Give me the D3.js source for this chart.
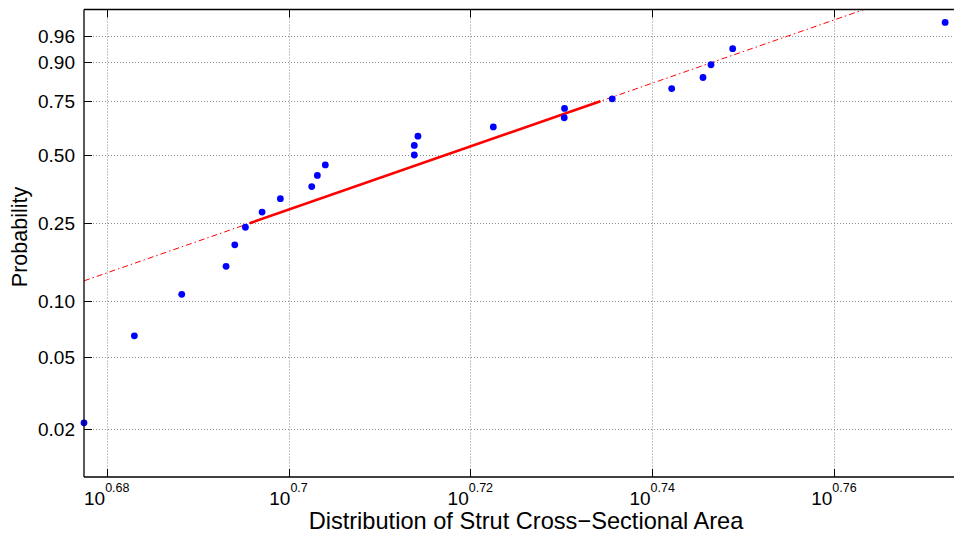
<!DOCTYPE html>
<html><head><meta charset="utf-8">
<script src="https://cdn.jsdelivr.net/npm/d3@7"></script>
<style>
html,body{margin:0;padding:0;background:#fff;overflow:hidden}
text{font-family:"Liberation Sans",Arial,Helvetica,sans-serif;fill:#000}
</style></head><body>
<svg id="c" width="954" height="536"></svg>
<script>
// Observed sample (strut cross-sectional area), sorted
const areaValues = [4.7588, 4.8199, 4.8781, 4.9332, 4.9441, 4.9574, 4.9784, 5.0015, 5.0414, 5.0486,
  5.0588, 5.1741, 5.1741, 5.1789, 5.2787, 5.3744, 5.3748, 5.4402, 5.5227, 5.5667, 5.5780, 5.6087, 5.9188];
const xTickExponents = [0.68, 0.70, 0.72, 0.74, 0.76];
const xTickLabels = ["0.68", "0.7", "0.72", "0.74", "0.76"];
const yTickProbs = [0.02, 0.05, 0.10, 0.25, 0.50, 0.75, 0.90, 0.96];
const yTickLabels = ["0.02", "0.05", "0.10", "0.25", "0.50", "0.75", "0.90", "0.96"];
const xUpperLimit = [5.9502];
const xLabel = "Distribution of Strut Cross\u2212Sectional Area";
const yLabel = "Probability";

const n = areaValues.length;
const probs = areaValues.map((d, i) => (i + 0.5) / n);
const wbl = p => Math.log(-Math.log(1 - p));

const svg = d3.select("#c");
const L = 84, T = 9.5, R = 966, B = 477;

const x = d3.scaleLog().domain([d3.min(areaValues), xUpperLimit[0]]).range([L, R]);
const y = d3.scaleLinear().domain([wbl(0.25 / n), wbl(1 - 0.25 / n)]).range([B, T]);

svg.append("defs").append("clipPath").attr("id", "clip")
  .append("rect").attr("x", L).attr("y", T).attr("width", R - L).attr("height", B - T);

// grid
const grid = svg.append("g").attr("stroke", "#8a8a8a").attr("stroke-width", 1).attr("stroke-dasharray", "1,2");
grid.selectAll(".gx").data(xTickExponents).join("line")
  .attr("x1", d => Math.round(x(Math.pow(10, d))) + 0.5).attr("x2", d => Math.round(x(Math.pow(10, d))) + 0.5)
  .attr("y1", T).attr("y2", B);
grid.selectAll(".gy").data(yTickProbs).join("line")
  .attr("y1", d => Math.round(y(wbl(d))) + 0.5).attr("y2", d => Math.round(y(wbl(d))) + 0.5)
  .attr("x1", L).attr("x2", R);

// reference line through quartiles (MATLAB prctile convention)
function prctile(arr, p) {
  const s = arr.slice().sort((a, b) => a - b);
  const pos = p * s.length + 0.5;
  const i = Math.floor(pos), f = pos - i;
  if (i < 1) return s[0];
  if (i >= s.length) return s[s.length - 1];
  return s[i - 1] + f * (s[i] - s[i - 1]);
}
const q1 = prctile(areaValues, 0.25), q3 = prctile(areaValues, 0.75);
const slope = (wbl(0.75) - wbl(0.25)) / (Math.log(q3) - Math.log(q1));
const refT = v => wbl(0.25) + slope * (Math.log(v) - Math.log(q1));
const line = d3.line().x(d => x(d)).y(d => y(refT(d)));

const plot = svg.append("g").attr("clip-path", "url(#clip)");
plot.append("path").datum(x.domain())
  .attr("d", line).attr("fill", "none").attr("stroke", "#ff0000").attr("stroke-width", 1)
  .attr("stroke-dasharray", "6,3,1.5,3");
plot.append("path").datum([q1, q3])
  .attr("d", line).attr("fill", "none").attr("stroke", "#ff0000").attr("stroke-width", 2.6);

// points
svg.append("g").selectAll("circle").data(areaValues).join("circle")
  .attr("cx", d => x(d)).attr("cy", (d, i) => y(wbl(probs[i])))
  .attr("r", 3.4).attr("fill", "#0000ff");

// axes lines
const ax = svg.append("g").attr("stroke", "#000").attr("stroke-width", 1.3);
ax.append("line").attr("x1", L).attr("x2", R).attr("y1", B).attr("y2", B);
ax.append("line").attr("x1", L).attr("x2", R).attr("y1", T).attr("y2", T);
ax.append("line").attr("x1", L).attr("x2", L).attr("y1", T).attr("y2", B);
ax.append("line").attr("x1", R).attr("x2", R).attr("y1", T).attr("y2", B);

const tk = 8;
const tg = svg.append("g").attr("stroke", "#000").attr("stroke-width", 1);
xTickExponents.forEach(e => {
  const px = Math.round(x(Math.pow(10, e))) + 0.5;
  tg.append("line").attr("x1", px).attr("x2", px).attr("y1", B).attr("y2", B - tk);
  tg.append("line").attr("x1", px).attr("x2", px).attr("y1", T).attr("y2", T + tk);
});
yTickProbs.forEach(p => {
  const py = Math.round(y(wbl(p))) + 0.5;
  tg.append("line").attr("x1", L).attr("x2", L + tk).attr("y1", py).attr("y2", py);
});

// x tick labels
xTickExponents.forEach((e, i) => {
  const px = x(Math.pow(10, e));
  const t = svg.append("text").attr("x", px).attr("y", 505).attr("text-anchor", "middle");
  t.append("tspan").attr("font-size", 19).text("10");
  t.append("tspan").attr("font-size", 12.5).attr("dy", -13).text(xTickLabels[i]);
});

// y tick labels
yTickProbs.forEach((p, i) => {
  svg.append("text").attr("x", 75).attr("y", y(wbl(p))).attr("dy", "0.36em")
    .attr("text-anchor", "end").attr("font-size", 19).text(yTickLabels[i]);
});

svg.append("text").attr("x", 526).attr("y", 529).attr("text-anchor", "middle")
  .attr("font-size", 23.6).text(xLabel);
svg.append("text").attr("transform", "translate(27,237) rotate(-90)").attr("text-anchor", "middle")
  .attr("font-size", 21.5).text(yLabel);
</script>
</body></html>
